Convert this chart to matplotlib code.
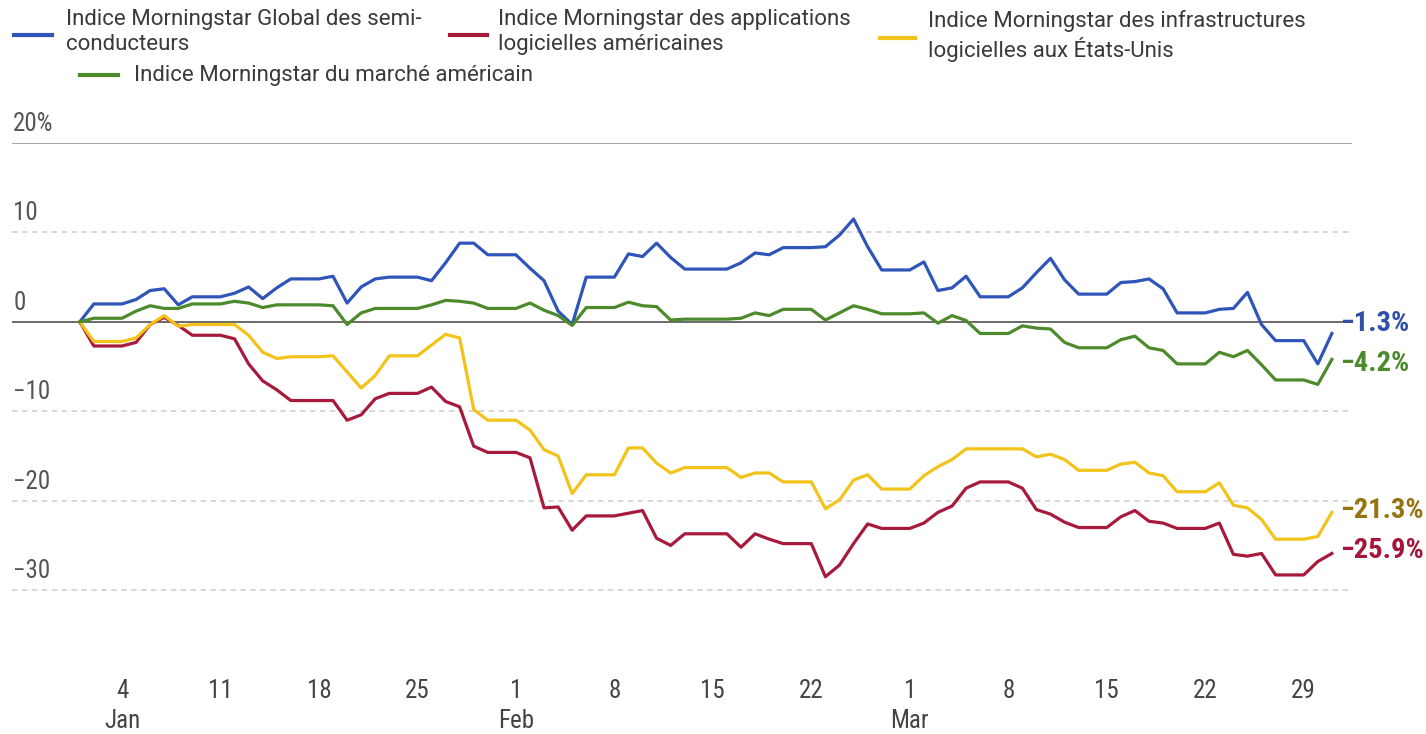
import numpy as np
import pandas as pd
import matplotlib
matplotlib.use('Agg')
import matplotlib.pyplot as plt
from matplotlib.lines import Line2D
import matplotlib.transforms as mtransforms
from matplotlib import font_manager

# Daten: Tageswerte 1. Jan - 31. Mär 2026 (Wochenenden = Vortageswert), in %
dates = pd.date_range('2026-01-01', '2026-03-31', freq='D')

semis = [0, 2.0, 2.0, 2.0, 2.5, 3.5, 3.7, 1.9, 2.8, 2.8, 2.8, 3.2, 3.9, 2.6, 3.8, 4.8, 4.8, 4.8,
         5.1, 2.1, 3.9, 4.8, 5.0, 5.0, 5.0, 4.6, 6.6, 8.8, 8.8, 7.5, 7.5, 7.5, 6.0, 4.6, 1.2, -0.3,
         5.0, 5.0, 5.0, 7.6, 7.3, 8.8, 7.2, 5.9, 5.9, 5.9, 5.9, 6.6, 7.7, 7.5, 8.3, 8.3, 8.3,
         8.4, 9.7, 11.5, 8.4, 5.8, 5.8, 5.8, 6.7, 3.5, 3.8, 5.1, 2.8, 2.8, 2.8, 3.8, 5.5, 7.1,
         4.7, 3.1, 3.1, 3.1, 4.4, 4.5, 4.8, 3.7, 1.0, 1.0, 1.0, 1.4, 1.5, 3.3, -0.3, -2.1, -2.1,
         -2.1, -4.7, -1.3]
us_market = [0, 0.4, 0.4, 0.4, 1.2, 1.8, 1.5, 1.5, 2.0, 2.0, 2.0, 2.3, 2.1, 1.6, 1.9, 1.9, 1.9, 1.9,
             1.8, -0.3, 1.0, 1.5, 1.5, 1.5, 1.5, 1.9, 2.4, 2.3, 2.1, 1.5, 1.5, 1.5, 2.1, 1.3, 0.7, -0.4,
             1.6, 1.6, 1.6, 2.2, 1.8, 1.7, 0.2, 0.3, 0.3, 0.3, 0.3, 0.4, 1.0, 0.7, 1.4, 1.4, 1.4,
             0.2, 1.0, 1.8, 1.4, 0.9, 0.9, 0.9, 1.0, -0.15, 0.7, 0.15, -1.3, -1.3, -1.3, -0.45, -0.7,
             -0.8, -2.3, -2.9, -2.9, -2.9, -2.0, -1.6, -2.9, -3.2, -4.7, -4.7, -4.7, -3.4, -3.9, -3.2,
             -4.8, -6.5, -6.5, -6.5, -7.0, -4.2]
sw_infra = [0, -2.2, -2.2, -2.2, -1.8, -0.3, 0.7, -0.5, -0.3, -0.3, -0.3, -0.3, -1.5, -3.4, -4.1,
            -3.9, -3.9, -3.9, -3.8, -5.6, -7.4, -6.0, -3.8, -3.8, -3.8, -2.6, -1.4, -1.8, -9.8,
            -11.0, -11.0, -11.0, -12.1, -14.3, -15.0, -19.2, -17.1, -17.1, -17.1, -14.1, -14.1,
            -15.8, -16.9, -16.3, -16.3, -16.3, -16.3, -17.4, -16.9, -16.9, -17.9, -17.9, -17.9,
            -20.9, -19.9, -17.7, -17.1, -18.7, -18.7, -18.7, -17.2, -16.2, -15.4, -14.2, -14.2,
            -14.2, -14.2, -14.2, -15.1, -14.8, -15.4, -16.6, -16.6, -16.6, -15.9, -15.7, -16.9,
            -17.2, -19.0, -19.0, -19.0, -18.0, -20.5, -20.8, -22.1, -24.3, -24.3, -24.3, -24.0, -21.3]
sw_apps = [0, -2.7, -2.7, -2.7, -2.3, -0.3, 0.5, -0.4, -1.5, -1.5, -1.5, -1.9, -4.7, -6.6, -7.6,
           -8.8, -8.8, -8.8, -8.8, -11.0, -10.4, -8.6, -8.0, -8.0, -8.0, -7.3, -8.9, -9.5, -13.9,
           -14.6, -14.6, -14.6, -15.2, -20.8, -20.7, -23.3, -21.7, -21.7, -21.7, -21.4, -21.1,
           -24.2, -25.0, -23.7, -23.7, -23.7, -23.7, -25.2, -23.7, -24.3, -24.8, -24.8, -24.8,
           -28.5, -27.2, -24.8, -22.6, -23.1, -23.1, -23.1, -22.5, -21.3, -20.6, -18.6, -17.9,
           -17.9, -17.9, -18.6, -21.0, -21.5, -22.4, -23.0, -23.0, -23.0, -21.8, -21.1, -22.3,
           -22.5, -23.1, -23.1, -23.1, -22.5, -26.0, -26.2, -25.9, -28.3, -28.3, -28.3, -26.8, -25.9]

names = ['Indice Morningstar Global des semi-\nconducteurs',
         'Indice Morningstar des applications\nlogicielles américaines',
         'Indice Morningstar des infrastructures\nlogicielles aux États-Unis',
         'Indice Morningstar du marché américain']
end_labels = ['−1.3%', '−25.9%', '−21.3%', '−4.2%']
y_ticks = [20, 10, 0, -10, -20, -30]
y_ticklabels = ['20%', '10', '0', '−10', '−20', '−30']

series = [semis, sw_apps, sw_infra, us_market]
colors = ['#2f55b8', '#a81a3c', '#f2c31a', '#4c8a2c']
label_colors = ['#2f4fa8', '#a3163a', '#957410', '#4c8a2c']
label_shift = [1.1, 0.3, 0.2, -0.5]  # damit sich die Endwerte nicht überlappen

# schmale Schrift, falls vorhanden
installed = {f.name for f in font_manager.fontManager.ttflist}
narrow_fam = None
for cand in ['Liberation Sans Narrow', 'DejaVu Sans Condensed', 'Roboto Condensed']:
    if cand in installed:
        narrow_fam = cand
        break
if narrow_fam is None:
    narrow = dict(family=['Roboto', 'DejaVu Sans'], stretch='condensed')
    nscale = 0.9
else:
    narrow = dict(family=[narrow_fam, 'DejaVu Sans'])
    nscale = 1.0

legend_font = ['Roboto', 'DejaVu Sans']
text_col = '#3a3a3a'

fig = plt.figure(figsize=(14.26, 7.34), dpi=100)
ax = fig.add_axes([0.0084, 0.1229, 0.9397, 0.6823])

for vals, c in zip(series, colors):
    ax.plot(dates, vals, color=c, lw=2.3, solid_joinstyle='round', zorder=3)

# Gitternetz
for v in y_ticks:
    if v == 20:
        ax.axhline(v, color='#a8a8a8', lw=1.4, zorder=1)
    elif v == 0:
        ax.axhline(v, color='#6a6a6a', lw=1.4, zorder=2)
    else:
        ax.axhline(v, color='#d4d4d4', lw=1.3, ls=(0, (3, 2.5)), zorder=1)

ax.set_ylim(-36, 20)
x0 = dates[0]
ax.set_xlim(x0 - pd.Timedelta(days=4.82), x0 + pd.Timedelta(days=90.43))
for s in ax.spines.values():
    s.set_visible(False)
ax.set_yticks([])

# y-Beschriftungen über den Linien
trans = mtransforms.blended_transform_factory(ax.transAxes, ax.transData)
for v, lab in zip(y_ticks, y_ticklabels):
    ax.annotate(lab, xy=(0.001, v), xycoords=trans, xytext=(0, 5), textcoords='offset points',
                ha='left', va='bottom', fontsize=18 * nscale, color='#555555', **narrow)

# x-Achse: Sonntage
sundays = pd.date_range('2026-01-04', '2026-03-29', freq='7D')
xlabels = []
seen = set()
for d in sundays:
    if d.month not in seen:
        seen.add(d.month)
        xlabels.append(f'{d.day}\n{d.strftime("%b")}')
    else:
        xlabels.append(f'{d.day}')
ax.set_xticks(sundays)
ax.set_xticklabels(xlabels, fontsize=18 * nscale, color='#444444', linespacing=1.35, **narrow)
ax.tick_params(axis='x', length=0, pad=25)

# Endwerte
for vals, c, lab, sh in zip(series, label_colors, end_labels, label_shift):
    ax.annotate(lab, xy=(dates[-1], vals[-1] + sh), xytext=(6, 0), textcoords='offset points',
                ha='left', va='center', fontsize=20.5 * nscale, fontweight='bold', color=c, **narrow)

# Legende (manuell)
leg_pos = [(14, 52, 35, 66, 32), (450, 487, 35, 498, 32), (880, 915, 38, 928, 36), (80, 118, 75, 134, 76)]
W, H = 1426, 734
for (lx0, lx1, ly, tx, ty), c, name in zip(leg_pos, colors, names):
    fig.add_artist(Line2D([lx0 / W, lx1 / W], [1 - ly / H, 1 - ly / H], color=c, lw=3,
                          transform=fig.transFigure))
    fig.text(tx / W, 1 - ty / H, name, ha='left', va='center', fontsize=16, color=text_col,
             family=legend_font, linespacing=1.28)

plt.savefig('out.png', dpi=100)
